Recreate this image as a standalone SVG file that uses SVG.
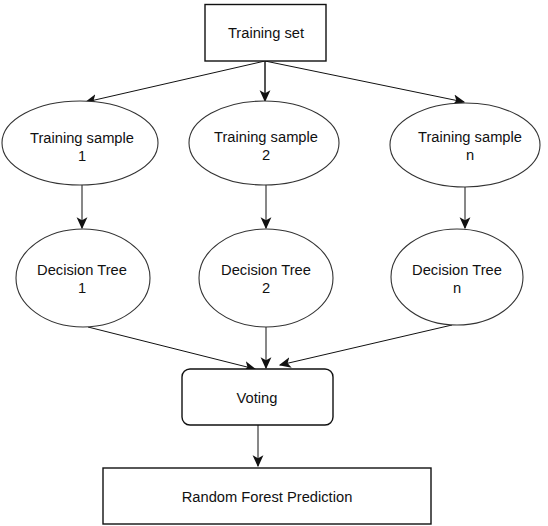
<svg xmlns="http://www.w3.org/2000/svg" width="548" height="526" viewBox="0 0 548 526">
<style>
  .box { fill: #fff; stroke: #111; stroke-width: 1.4; }
  .ell { fill: #fff; stroke: #333; stroke-width: 1.1; }
  .lbl { font-family: "Liberation Sans", Arial, sans-serif; font-size: 14.7px; fill: #111; text-anchor: middle; }
  .conn { stroke: #111; stroke-width: 1; fill: none; marker-end: url(#arr); }
  .thick { stroke: #555; stroke-width: 2; }
</style>
<defs>
  <marker id="arr" markerUnits="userSpaceOnUse" markerWidth="12" markerHeight="12" viewBox="0 0 10 10" refX="9" refY="5" orient="auto">
    <path d="M0,0.5 L10,5 L0,9.5 L2.5,5 Z" fill="#111"/>
  </marker>
</defs>
<rect width="548" height="526" fill="#fff"/>
<g id="connectors">
  <line class="conn" x1="265" y1="61" x2="86" y2="102"/>
  <line class="conn thick" x1="265" y1="61" x2="265" y2="101"/>
  <line class="conn" x1="265" y1="61" x2="464" y2="102"/>
  <line class="conn" x1="82" y1="185" x2="82" y2="228"/>
  <line class="conn" x1="266" y1="185" x2="266" y2="228"/>
  <line class="conn" x1="465" y1="187" x2="465" y2="228"/>
  <line class="conn" x1="88" y1="327" x2="255" y2="369"/>
  <line class="conn" x1="266" y1="327" x2="266" y2="368"/>
  <line class="conn" x1="452" y1="325" x2="280" y2="365"/>
  <line class="conn" x1="258" y1="425" x2="258" y2="466"/>
</g>
<g id="training-set">
  <rect class="box" x="205" y="4.5" width="121" height="56.5"/>
  <text class="lbl" x="266" y="38">Training set</text>
</g>
<g id="sample-1">
  <ellipse class="ell" cx="80" cy="143" rx="78" ry="42"/>
  <text class="lbl" x="82" y="143">Training sample</text>
  <text class="lbl" x="82" y="161">1</text>
</g>
<g id="sample-2">
  <ellipse class="ell" cx="264" cy="143" rx="75" ry="42"/>
  <text class="lbl" x="266" y="142">Training sample</text>
  <text class="lbl" x="266" y="160">2</text>
</g>
<g id="sample-n">
  <ellipse class="ell" cx="465" cy="145" rx="75" ry="42"/>
  <text class="lbl" x="470" y="142">Training sample</text>
  <text class="lbl" x="470" y="160">n</text>
</g>
<g id="tree-1">
  <ellipse class="ell" cx="83" cy="278" rx="67" ry="49"/>
  <text class="lbl" x="82" y="275">Decision Tree</text>
  <text class="lbl" x="82" y="293">1</text>
</g>
<g id="tree-2">
  <ellipse class="ell" cx="266" cy="278" rx="67" ry="49"/>
  <text class="lbl" x="266" y="275">Decision Tree</text>
  <text class="lbl" x="266" y="293">2</text>
</g>
<g id="tree-n">
  <ellipse class="ell" cx="457" cy="277" rx="66" ry="48"/>
  <text class="lbl" x="457" y="275">Decision Tree</text>
  <text class="lbl" x="457" y="293">n</text>
</g>
<g id="voting">
  <rect class="box" x="182" y="369" width="151" height="56" rx="8" ry="8"/>
  <text class="lbl" x="257" y="403">Voting</text>
</g>
<g id="prediction">
  <rect class="box" x="103" y="468" width="328" height="56"/>
  <text class="lbl" x="267" y="502">Random Forest Prediction</text>
</g>
</svg>
